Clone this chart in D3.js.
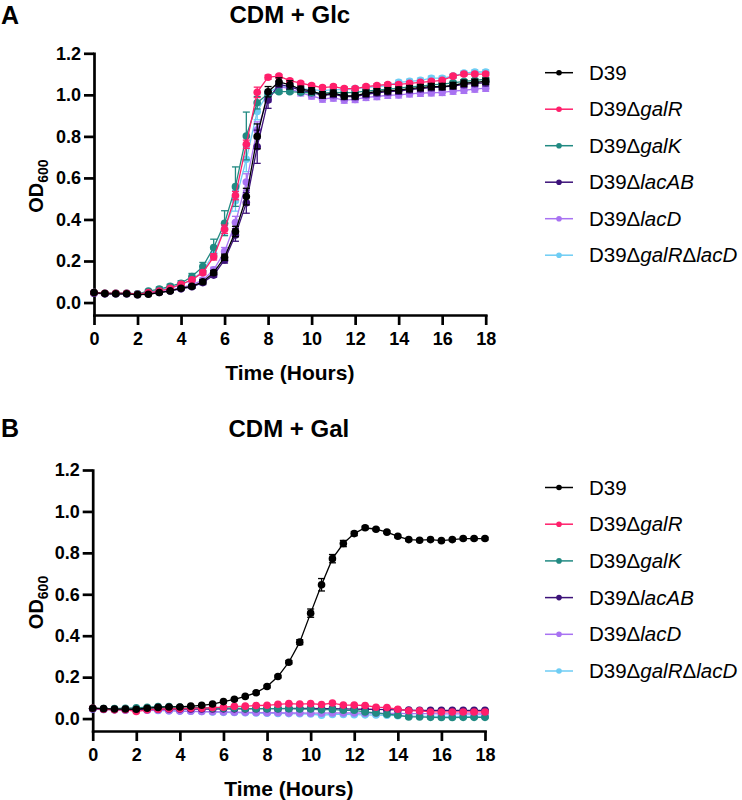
<!DOCTYPE html>
<html><head><meta charset="utf-8">
<script src="https://cdn.jsdelivr.net/npm/d3@7"></script>
<style>body{margin:0;background:#fff} svg{display:block}</style>
</head><body>
<svg id="c" width="742" height="800"></svg>
<script>
// ---------- DATA ----------
const times = [0,0.5,1,1.5,2,2.5,3,3.5,4,4.5,5,5.5,6,6.5,7,7.5,8,8.5,9,9.5,10,10.5,11,11.5,12,12.5,13,13.5,14,14.5,15,15.5,16,16.5,17,17.5,18];
const xTicks = [0,2,4,6,8,10,12,14,16,18];
const yTicks = [0,0.2,0.4,0.6,0.8,1.0,1.2];
const strainIds = ["D39","galR","galK","lacAB","lacD","galRlacD"];
const strainColors = ["#000000","#FF1F6B","#218A82","#3C1279","#A872F2","#6ECDF4"];
// legend label segments: [text, italic]
const legendLabels = [
  [["D39",false]],
  [["D39Δ",false],["galR",true]],
  [["D39Δ",false],["galK",true]],
  [["D39Δ",false],["lacAB",true]],
  [["D39Δ",false],["lacD",true]],
  [["D39Δ",false],["galR",true],["Δ",false],["lacD",true]]
];
const panelTitles = ["CDM + Glc","CDM + Gal"];
const panelLetters = ["A","B"];

// Panel A: CDM + Glc (OD600)
const glcD39      = [0.048,0.043,0.042,0.042,0.038,0.040,0.048,0.056,0.069,0.078,0.100,0.144,0.218,0.342,0.510,0.800,1.015,1.062,1.048,1.027,1.019,1.000,1.008,0.995,0.995,1.008,1.015,1.020,1.023,1.030,1.035,1.040,1.040,1.045,1.056,1.060,1.065];
const glcGalR     = [0.048,0.045,0.045,0.045,0.040,0.048,0.055,0.068,0.088,0.109,0.144,0.220,0.353,0.515,0.762,1.012,1.085,1.090,1.068,1.056,1.045,1.035,1.040,1.030,1.030,1.040,1.045,1.050,1.050,1.055,1.060,1.065,1.070,1.090,1.100,1.100,1.100];
const glcGalK     = [0.048,0.045,0.045,0.045,0.042,0.055,0.065,0.078,0.093,0.125,0.173,0.265,0.382,0.558,0.802,0.962,1.005,1.015,1.015,1.012,1.010,1.008,1.012,1.010,1.012,1.018,1.022,1.028,1.032,1.038,1.042,1.048,1.052,1.058,1.065,1.070,1.075];
const glcLacAB    = [0.045,0.042,0.042,0.042,0.038,0.042,0.048,0.056,0.066,0.076,0.096,0.132,0.205,0.325,0.480,0.750,0.975,1.050,1.040,1.022,1.012,0.998,1.002,0.992,0.992,1.002,1.010,1.015,1.018,1.025,1.030,1.035,1.038,1.042,1.050,1.055,1.058];
const glcLacD     = [0.045,0.042,0.042,0.042,0.040,0.045,0.052,0.060,0.072,0.085,0.108,0.158,0.245,0.385,0.580,0.830,0.985,1.040,1.030,1.010,0.995,0.980,0.985,0.975,0.978,0.988,0.992,0.998,1.000,1.005,1.008,1.010,1.012,1.018,1.022,1.028,1.032];
const glcGalRLacD = [0.048,0.045,0.045,0.045,0.042,0.050,0.060,0.070,0.085,0.110,0.150,0.235,0.355,0.490,0.690,0.920,1.010,1.040,1.035,1.030,1.025,1.020,1.025,1.025,1.030,1.035,1.040,1.045,1.060,1.065,1.070,1.080,1.080,1.090,1.105,1.110,1.110];

// Panel A error bars (SD)
const glcD39Err      = [0.005,0.005,0.005,0.005,0.005,0.005,0.005,0.005,0.005,0.008,0.010,0.010,0.015,0.025,0.040,0.060,0.025,0.020,0.020,0.015,0.015,0.015,0.015,0.015,0.015,0.015,0.015,0.015,0.015,0.015,0.015,0.015,0.015,0.015,0.015,0.015,0.015];
const glcGalRErr     = [0.005,0.005,0.005,0.005,0.005,0.005,0.005,0.005,0.005,0.005,0.010,0.015,0.020,0.020,0.020,0.025,0.010,0.008,0.008,0.008,0.008,0.008,0.008,0.008,0.008,0.008,0.008,0.008,0.008,0.008,0.008,0.008,0.008,0.008,0.008,0.008,0.008];
const glcGalKErr     = [0.005,0.005,0.005,0.005,0.005,0.008,0.010,0.010,0.012,0.015,0.020,0.040,0.060,0.095,0.115,0.030,0.010,0.008,0.008,0.008,0.008,0.008,0.008,0.008,0.008,0.008,0.008,0.008,0.008,0.008,0.008,0.008,0.008,0.008,0.008,0.008,0.008];
const glcLacABErr    = [0.005,0.005,0.005,0.005,0.005,0.005,0.005,0.005,0.005,0.008,0.010,0.010,0.015,0.030,0.050,0.080,0.040,0.015,0.015,0.015,0.015,0.015,0.015,0.015,0.015,0.015,0.015,0.015,0.015,0.015,0.015,0.015,0.015,0.015,0.015,0.015,0.015];
const glcLacDErr     = [0.005,0.005,0.005,0.005,0.005,0.005,0.005,0.005,0.005,0.008,0.010,0.012,0.020,0.030,0.040,0.040,0.020,0.015,0.015,0.015,0.015,0.015,0.015,0.015,0.015,0.015,0.015,0.015,0.015,0.015,0.015,0.015,0.015,0.015,0.015,0.015,0.015];
const glcGalRLacDErr = [0.005,0.005,0.005,0.005,0.005,0.005,0.008,0.008,0.010,0.012,0.015,0.020,0.030,0.050,0.060,0.040,0.015,0.010,0.010,0.010,0.010,0.010,0.010,0.010,0.010,0.010,0.010,0.010,0.010,0.010,0.010,0.010,0.010,0.010,0.010,0.010,0.010];

// Panel B: CDM + Gal (OD600)
const galD39      = [0.050,0.048,0.046,0.046,0.045,0.050,0.054,0.056,0.056,0.060,0.064,0.070,0.082,0.093,0.107,0.125,0.155,0.203,0.272,0.369,0.509,0.646,0.772,0.845,0.893,0.921,0.914,0.900,0.880,0.864,0.861,0.864,0.859,0.864,0.869,0.869,0.869];
const galGalR     = [0.050,0.045,0.042,0.043,0.034,0.042,0.045,0.048,0.048,0.050,0.050,0.053,0.055,0.059,0.060,0.063,0.064,0.069,0.072,0.070,0.072,0.068,0.075,0.065,0.065,0.063,0.055,0.053,0.045,0.038,0.037,0.032,0.032,0.032,0.032,0.032,0.032];
const galGalK     = [0.050,0.048,0.048,0.050,0.052,0.055,0.058,0.058,0.056,0.055,0.052,0.050,0.050,0.050,0.048,0.048,0.048,0.048,0.048,0.046,0.046,0.042,0.044,0.040,0.040,0.032,0.027,0.021,0.016,0.008,0.008,0.006,0.005,0.005,0.006,0.006,0.006];
const galLacAB    = [0.048,0.046,0.045,0.045,0.044,0.045,0.046,0.046,0.046,0.046,0.046,0.046,0.047,0.047,0.047,0.048,0.048,0.048,0.049,0.049,0.049,0.048,0.048,0.047,0.046,0.045,0.044,0.043,0.042,0.041,0.040,0.040,0.040,0.040,0.040,0.040,0.040];
const galLacD     = [0.046,0.044,0.042,0.040,0.040,0.040,0.040,0.038,0.036,0.035,0.034,0.033,0.032,0.031,0.030,0.029,0.028,0.028,0.027,0.027,0.026,0.026,0.027,0.027,0.027,0.026,0.026,0.025,0.025,0.024,0.024,0.024,0.023,0.023,0.023,0.022,0.022];
const galGalRLacD = [0.046,0.044,0.042,0.041,0.040,0.040,0.039,0.038,0.036,0.035,0.034,0.032,0.030,0.029,0.028,0.027,0.026,0.025,0.024,0.023,0.022,0.016,0.020,0.020,0.019,0.018,0.017,0.016,0.014,0.012,0.012,0.011,0.010,0.010,0.010,0.010,0.010];

const galD39Err   = [0.004,0.004,0.004,0.004,0.004,0.004,0.004,0.004,0.004,0.004,0.004,0.004,0.005,0.005,0.005,0.006,0.006,0.006,0.008,0.012,0.020,0.030,0.020,0.015,0.010,0.008,0.006,0.006,0.006,0.006,0.006,0.006,0.006,0.006,0.006,0.006,0.006];
const galSmallErr = [0.004,0.004,0.004,0.004,0.004,0.004,0.004,0.004,0.004,0.004,0.004,0.004,0.004,0.004,0.004,0.004,0.004,0.004,0.004,0.004,0.004,0.004,0.004,0.004,0.004,0.004,0.004,0.004,0.004,0.004,0.004,0.004,0.004,0.004,0.004,0.004,0.004];

const panels = [
  { values:[glcD39,glcGalR,glcGalK,glcLacAB,glcLacD,glcGalRLacD],
    errors:[glcD39Err,glcGalRErr,glcGalKErr,glcLacABErr,glcLacDErr,glcGalRLacDErr],
    x0:94, x1:485.7, yBase:315, yTop:53.3, titleY:23, letterY:24, legendY0:72.7, legendStep:36.5 },
  { values:[galD39,galGalR,galGalK,galLacAB,galLacD,galGalRLacD],
    errors:[galD39Err,galSmallErr,galSmallErr,galSmallErr,galSmallErr,galSmallErr],
    x0:92.7, x1:485, yBase:731, yTop:470, titleY:437, letterY:437, legendY0:487.5, legendStep:36.7 }
];

// ---------- DRAW ----------
const svg = d3.select("#c");
const SANS = "'Liberation Sans', Arial, sans-serif";
const drawOrder = [5,4,3,2,1,0];

panels.forEach((p, pi) => {
  const g = svg.append("g");
  const x = d3.scaleLinear().domain([0,18]).range([p.x0, p.x1]);
  const y = d3.scaleLinear().domain([-0.06,1.2]).range([p.yBase, p.yTop]);

  // panel letter and title
  g.append("text").attr("x",1).attr("y",p.letterY).text(panelLetters[pi])
    .attr("font-family",SANS).attr("font-weight","bold").attr("font-size",25);
  g.append("text").attr("x",(p.x0+p.x1)/2).attr("y",p.titleY).attr("text-anchor","middle")
    .text(panelTitles[pi]).attr("font-family",SANS).attr("font-weight","bold").attr("font-size",24);

  // axes
  const xa = g.append("g").attr("transform",`translate(0,${p.yBase})`)
    .call(d3.axisBottom(x).tickValues(xTicks).tickFormat(d3.format("d")).tickSize(10).tickSizeOuter(0).tickPadding(7));
  const ya = g.append("g").attr("transform",`translate(${p.x0},0)`)
    .call(d3.axisLeft(y).tickValues(yTicks).tickFormat(d3.format(".1f")).tickSize(10).tickSizeOuter(0).tickPadding(3));
  [xa,ya].forEach(a => {
    a.select(".domain").attr("stroke","#000").attr("stroke-width",2.7).attr("stroke-linecap","square");
    a.selectAll(".tick line").attr("stroke","#000").attr("stroke-width",2.7);
    a.selectAll(".tick text").attr("fill","#000").attr("font-family",SANS)
      .attr("font-weight","bold").attr("font-size",18);
  });

  // axis titles
  g.append("text").attr("x",(p.x0+p.x1)/2).attr("y",p.yBase+65).attr("text-anchor","middle")
    .text("Time (Hours)").attr("font-family",SANS).attr("font-weight","bold").attr("font-size",21);
  const yl = g.append("text")
    .attr("transform",`translate(43,${(p.yBase+p.yTop)/2 + 2}) rotate(-90)`)
    .attr("text-anchor","middle").attr("font-family",SANS).attr("font-weight","bold");
  yl.append("tspan").attr("font-size",20).text("OD");
  yl.append("tspan").attr("font-size",14).attr("dy",5).text("600");

  // series
  const line = d3.line().x((d,i)=>x(times[i])).y(d=>y(d));
  drawOrder.forEach(si => {
    const col = strainColors[si];
    const vals = p.values[si], errs = p.errors[si];
    const sg = g.append("g");
    sg.append("path").datum(vals).attr("d",line).attr("fill","none")
      .attr("stroke",col).attr("stroke-width",1.3);
    const eb = sg.selectAll("g.eb").data(vals).join("g");
    eb.append("line").attr("x1",(d,i)=>x(times[i])).attr("x2",(d,i)=>x(times[i]))
      .attr("y1",(d,i)=>y(d+errs[i])).attr("y2",(d,i)=>y(d-errs[i]))
      .attr("stroke",col).attr("stroke-width",1.3);
    eb.append("line").attr("x1",(d,i)=>x(times[i])-3.5).attr("x2",(d,i)=>x(times[i])+3.5)
      .attr("y1",(d,i)=>y(d+errs[i])).attr("y2",(d,i)=>y(d+errs[i]))
      .attr("stroke",col).attr("stroke-width",1.3);
    eb.append("line").attr("x1",(d,i)=>x(times[i])-3.5).attr("x2",(d,i)=>x(times[i])+3.5)
      .attr("y1",(d,i)=>y(d-errs[i])).attr("y2",(d,i)=>y(d-errs[i]))
      .attr("stroke",col).attr("stroke-width",1.3);
    sg.selectAll("circle").data(vals).join("circle")
      .attr("cx",(d,i)=>x(times[i])).attr("cy",d=>y(d)).attr("r",3.8).attr("fill",col);
  });

  // legend
  const lg = g.append("g");
  strainIds.forEach((id, si) => {
    const cy = p.legendY0 + si*p.legendStep;
    lg.append("line").attr("x1",545).attr("x2",573).attr("y1",cy).attr("y2",cy)
      .attr("stroke",strainColors[si]).attr("stroke-width",1.5);
    lg.append("circle").attr("cx",559).attr("cy",cy).attr("r",2.8).attr("fill",strainColors[si]);
    const t = lg.append("text").attr("x",589).attr("y",cy+7)
      .attr("font-family",SANS).attr("font-size",20.5).attr("fill","#000");
    legendLabels[si].forEach(([s,it]) => {
      t.append("tspan").attr("font-style", it ? "italic" : "normal").text(s);
    });
  });
});
</script>
</body></html>
